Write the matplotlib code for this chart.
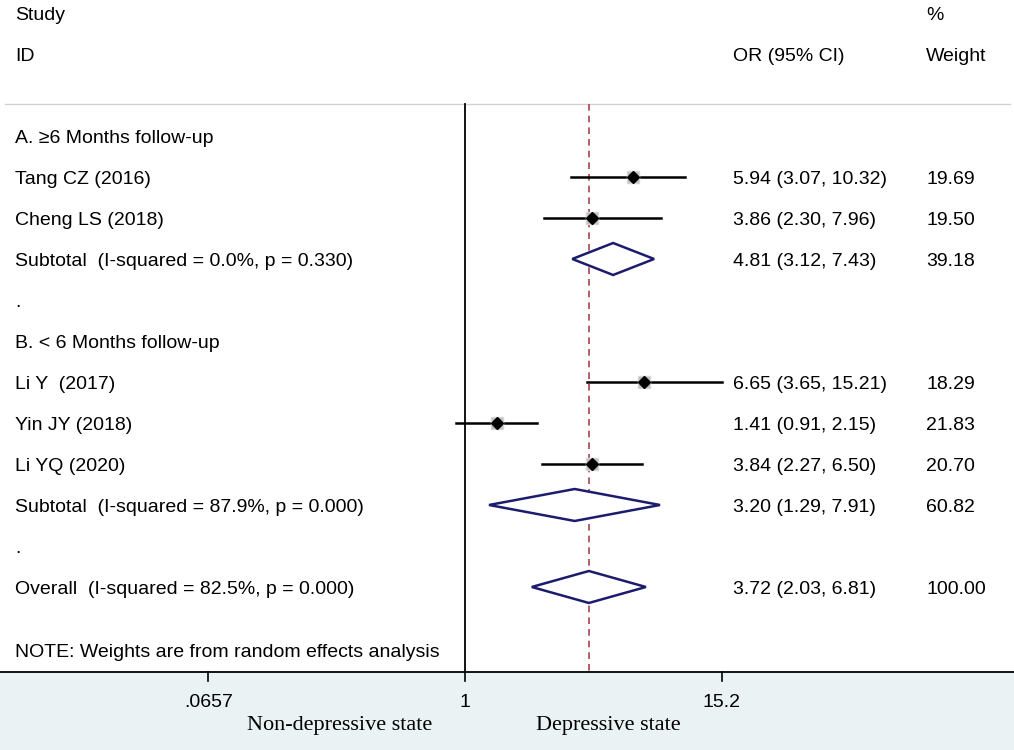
import numpy as np
import matplotlib
matplotlib.use('Agg')
import matplotlib.pyplot as plt
from matplotlib.transforms import blended_transform_factory

plt.rcParams['font.family'] = ['Liberation Sans', 'DejaVu Sans']

# 数据：单个研究
study_names = ['Tang CZ (2016)', 'Cheng LS (2018)', 'Li Y  (2017)', 'Yin JY (2018)', 'Li YQ (2020)']
study_rows = [1, 2, 6, 7, 8]
study_or = [5.94, 3.86, 6.65, 1.41, 3.84]
study_lo = [3.07, 2.30, 3.65, 0.91, 2.27]
study_hi = [10.32, 7.96, 15.21, 2.15, 6.50]
study_wt = [19.69, 19.50, 18.29, 21.83, 20.70]

# 数据：合并结果（亚组和总体）
pool_names = ['Subtotal  (I-squared = 0.0%, p = 0.330)',
              'Subtotal  (I-squared = 87.9%, p = 0.000)',
              'Overall  (I-squared = 82.5%, p = 0.000)']
pool_rows = [3, 9, 11]
pool_or = [4.81, 3.20, 3.72]
pool_lo = [3.12, 1.29, 2.03]
pool_hi = [7.43, 7.91, 6.81]
pool_wt = [39.18, 60.82, 100.00]

group_names = ['A. \u22656 Months follow-up', 'B. < 6 Months follow-up']
group_rows = [0, 5]
dot_rows = [4, 10]

tick_vals = [0.0657, 1, 15.2]
tick_labels = ['.0657', '1', '15.2']

overall_or = pool_or[2]

fig = plt.figure(figsize=(10.14, 7.5), dpi=100)
ax = fig.add_axes([0, 0, 1, 1])
ax.set_xscale('log')
ax.set_xlim(np.exp(-465 / 94.3), np.exp((1014 - 465) / 94.3))
ax.set_ylim(14.976, -3.317)
ax.axis('off')

tr = blended_transform_factory(ax.transAxes, ax.transData)
fs = 14
dy = 0.05  # 文字垂直微调
x_lab = 15 / 1014
x_or = 733 / 1014
x_wt = 926 / 1014


def put(x, y, s, **kw):
    ax.text(x, y + dy, s, transform=tr, fontsize=fs, va='center', **kw)


# 表头
put(x_lab, -3, 'Study')
put(x_lab, -2, 'ID')
put(x_or, -2, 'OR (95% CI)')
put(x_wt, -3, '%')
put(x_wt, -2, 'Weight')

top = -0.78
bottom = 13.07
ax.plot([5 / 1014, 1010 / 1014], [top, top], transform=tr, color='#d2d2d2', lw=1.0)

# 无效线与总体效应线
ax.plot([1, 1], [top, bottom], color='black', lw=1.3, zorder=2)
ax.plot([overall_or, overall_or], [top, bottom], color='#a8434f', lw=1.2,
        dashes=(4, 3), zorder=2)

for name, r in zip(group_names, group_rows):
    put(x_lab, r, name)
for r in dot_rows:
    put(x_lab, r, '.')

# 单个研究
for name, r, o, lo, hi, w in zip(study_names, study_rows, study_or, study_lo, study_hi, study_wt):
    put(x_lab, r, name)
    ax.plot([lo, hi], [r, r], color='black', lw=1.8, zorder=3)
    ax.plot(o, r, marker='s', ms=9, color='#bdbdbd', mec='#d6d6d6', zorder=4)
    ax.plot(o, r, marker='D', ms=6, color='black', zorder=5)
    put(x_or, r, f'{o:.2f} ({lo:.2f}, {hi:.2f})')
    put(x_wt, r, f'{w:.2f}')

# 合并结果菱形
h = 0.39
for name, r, o, lo, hi, w in zip(pool_names, pool_rows, pool_or, pool_lo, pool_hi, pool_wt):
    put(x_lab, r, name)
    ax.fill([lo, o, hi, o, lo], [r, r - h, r, r + h, r], facecolor='white',
            edgecolor='#1c1c6e', lw=1.8, zorder=4)
    put(x_or, r, f'{o:.2f} ({lo:.2f}, {hi:.2f})')
    put(x_wt, r, f'{w:.2f}')

put(x_lab, 12.54, 'NOTE: Weights are from random effects analysis')

# 底部坐标轴区域
ax.axhspan(bottom, 14.976, color='#eaf2f3', zorder=0)
ax.plot([0, 1], [bottom, bottom], transform=tr, color='black', lw=1.3)
for v, lab in zip(tick_vals, tick_labels):
    ax.plot([v, v], [bottom, bottom + 0.22], color='black', lw=1.2)
    ax.text(v, 13.76 + dy, lab, fontsize=fs, ha='center', va='center')

ax.text(340 / 1014, 14.37, 'Non-depressive state', transform=tr, fontsize=16,
        ha='center', va='center', family='Liberation Serif')
ax.text(608 / 1014, 14.37, 'Depressive state', transform=tr, fontsize=16,
        ha='center', va='center', family='Liberation Serif')

fig.savefig('out.png', dpi=100)
